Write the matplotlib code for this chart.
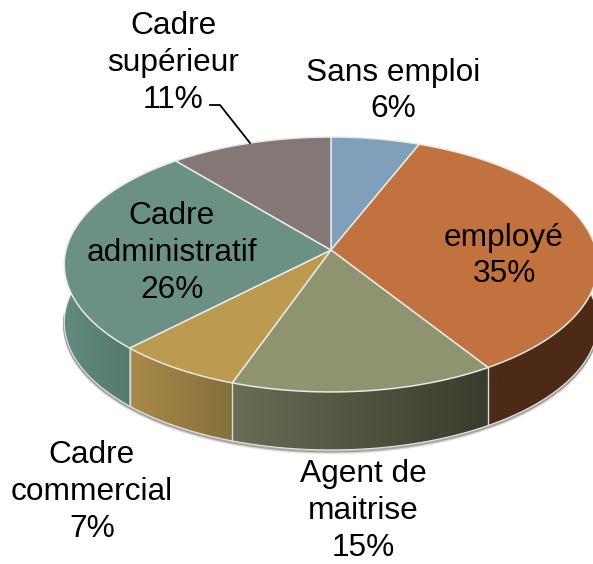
import numpy as np
import matplotlib
matplotlib.use('Agg')
import matplotlib.pyplot as plt
from matplotlib.colors import to_rgb
from matplotlib.patches import Polygon

plt.rcParams['font.family'] = ['Liberation Sans', 'DejaVu Sans']

# data, clockwise from 12 o'clock
labels = ['Sans emploi', 'employé', 'Agent de\nmaitrise', 'Cadre\ncommercial',
          'Cadre\nadministratif', 'Cadre\nsupérieur']
shares = [6.0, 35.0, 14.4, 6.9, 26.7, 11.0]
pct_labels = ['6%', '35%', '15%', '7%', '26%', '11%']

top_colors = ['#7f9fbb', '#c2723f', '#8e9470', '#bc9b50', '#6b9185', '#847876']
side_left = ['#5f7a91', '#4d2a16', '#6a6c54', '#a98a4a', '#628a7f', '#5f5653']
side_right = ['#5f7a91', '#4d2a16', '#3a3c2d', '#84703b', '#557a70', '#5f5653']

label_xy = [(393, 91), (504, 256), (363, 511), (92, 492), (172, 253), (173, 63)]

# pseudo 3d projection of the pie disc
CX, CY, A, B, K, DEPTH = 331, 250, 265, 125.8, 0.1137, 58


def project(theta):
    u, v = np.sin(theta), np.cos(theta)
    d = 1 + K * v
    return CX + A * u / d, CY - B * v / d


fig = plt.figure(figsize=(5.93, 5.64), dpi=100)
ax = fig.add_axes([0, 0, 1, 1])

edges = np.radians(np.concatenate([[0], np.cumsum(shares)]) * 3.6)

# soft shadow under the rim
tt = np.linspace(np.pi / 2 + 0.05, 3 * np.pi / 2 - 0.05, 200)
sx, sy = project(tt)
for off, a in [(3, 0.08), (2, 0.14), (1, 0.22)]:
    ax.plot(sx, sy + DEPTH + off, color='black', alpha=a, lw=2, zorder=1)

# rim pieces, shaded left to right with a clipped gradient image
for i in range(len(shares)):
    th = np.linspace(edges[i], edges[i + 1], 80)
    th = th[np.cos(th) < 0.12]
    if len(th) < 2:
        continue
    x, y = project(th)
    rim = Polygon(list(zip(x, y)) + list(zip(x[::-1], y[::-1] + DEPTH)),
                  closed=True, fc='none', ec='none', transform=ax.transData)
    ax.add_patch(rim)
    ramp = np.linspace(0, 1, 64)[None, :, None]
    grad = np.array(to_rgb(side_left[i])) * (1 - ramp) + np.array(to_rgb(side_right[i])) * ramp
    im = ax.imshow(grad, extent=[x.min(), x.max(), y.max() + DEPTH, y.min()],
                   aspect='auto', zorder=2, interpolation='bilinear')
    im.set_clip_path(rim)
    ax.plot(x, y + DEPTH, color='#e4e4e0', lw=0.8, zorder=3)
    # seams between the rim pieces
    ax.plot([x[0], x[0]], [y[0], y[0] + DEPTH], color='#dcdcd6', lw=1, zorder=3)

# top face
for i in range(len(shares)):
    th = np.linspace(edges[i], edges[i + 1], 80)
    x, y = project(th)
    pts = [(CX, CY)] + list(zip(x, y))
    ax.add_patch(Polygon(pts, closed=True, fc=top_colors[i], ec='#e9e9e4',
                         lw=1.1, joinstyle='round', zorder=4))

# leader line for the top left label
ax.plot([210, 220, 250], [105, 105, 143], color='black', lw=1.3, zorder=5)

for i in range(len(labels)):
    ax.text(label_xy[i][0], label_xy[i][1], labels[i] + '\n' + pct_labels[i],
            ha='center', va='center', ma='center', fontsize=22.8,
            linespacing=1.29, color='black', zorder=6)

ax.set_xlim(0, 593)
ax.set_ylim(564, 0)
ax.axis('off')

fig.savefig('out.png', dpi=100)
